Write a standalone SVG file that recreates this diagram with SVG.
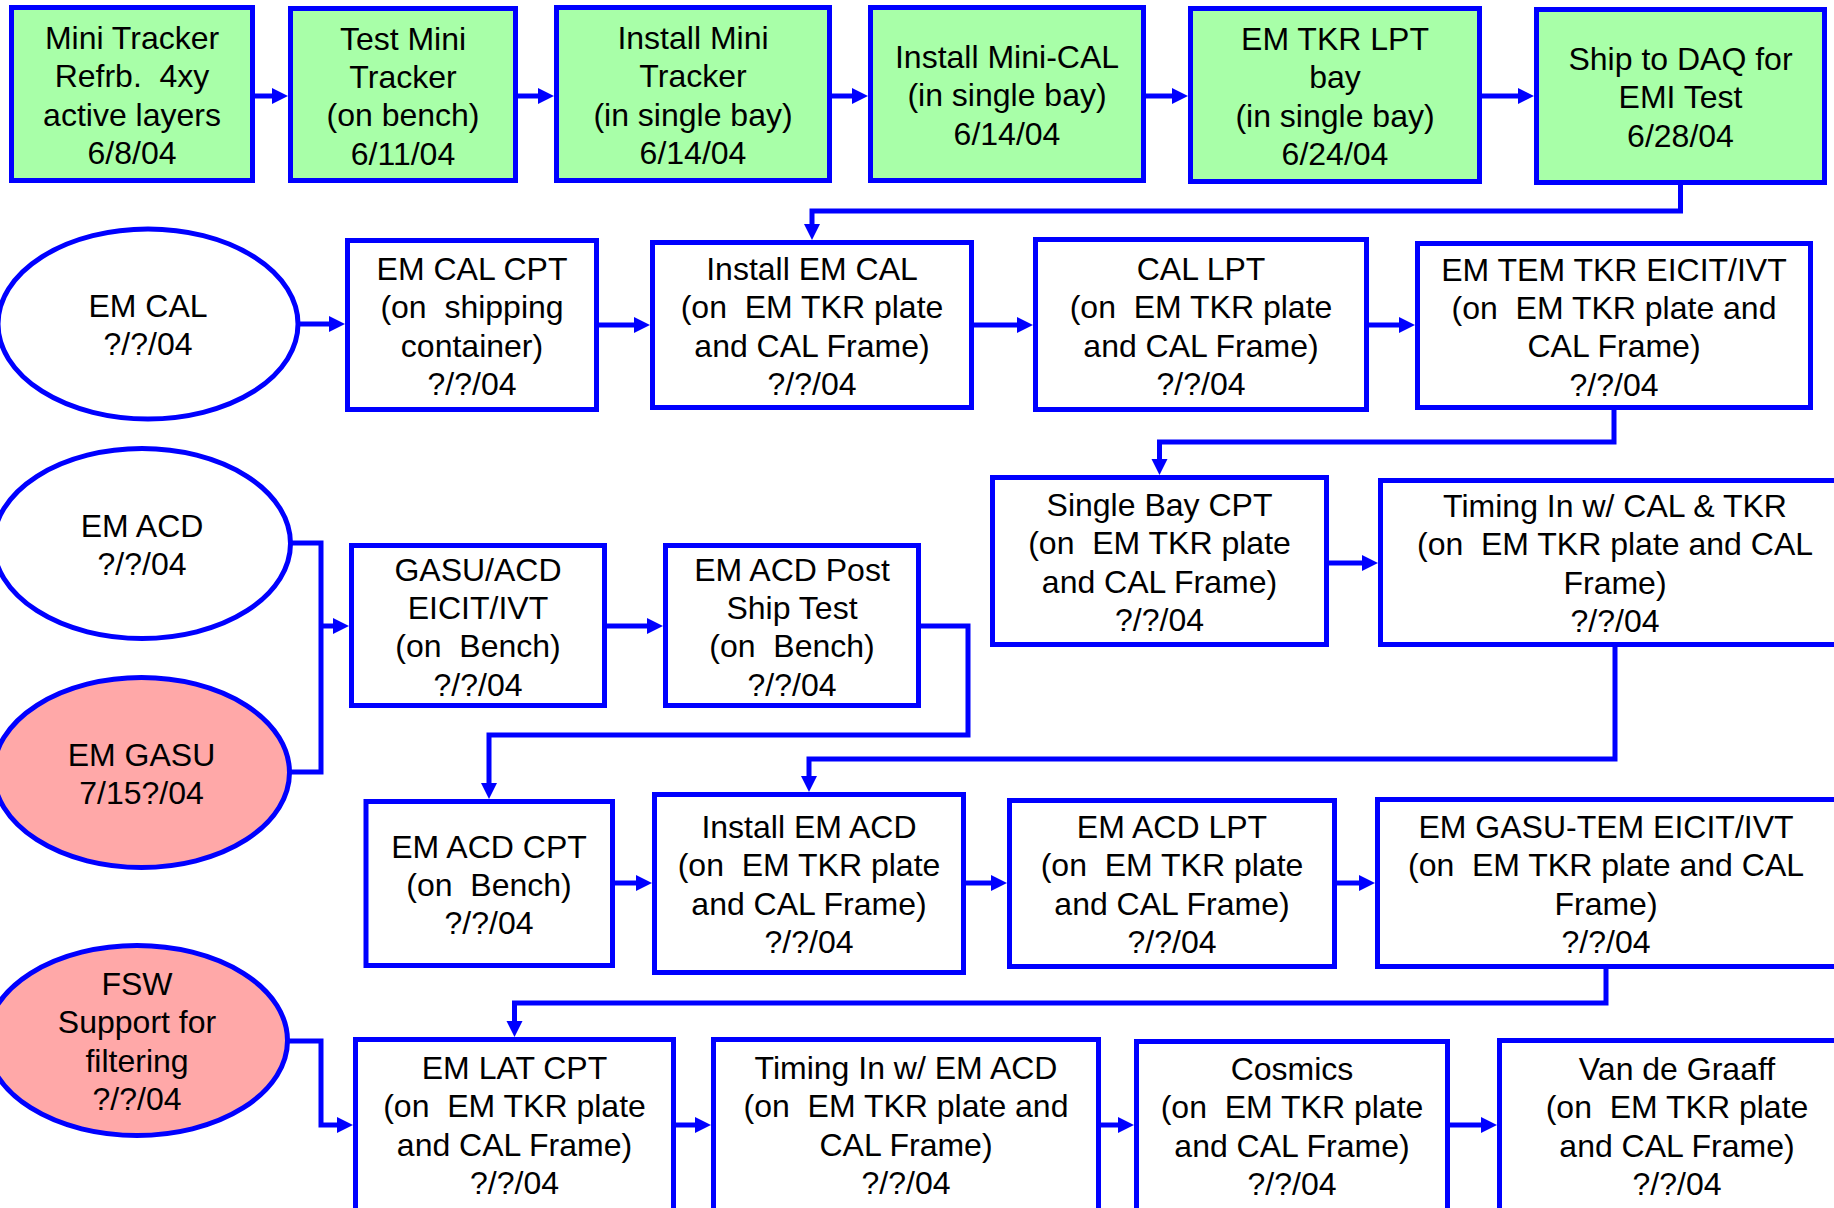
<svg xmlns="http://www.w3.org/2000/svg" width="1834" height="1208" viewBox="0 0 1834 1208">
<style>
.box{fill:#ffffff;stroke:#0000ff;stroke-width:5}
.green{fill:#a8ffa8}
.pink{fill:#ffa8a8}
text{font-family:"Liberation Sans",Arial,sans-serif;font-size:32px;text-anchor:middle;fill:#000000}
.c{fill:none;stroke:#0000ff;stroke-width:5;stroke-linejoin:miter}
</style>
<defs>
<marker id="ah" markerUnits="userSpaceOnUse" markerWidth="16" markerHeight="16" refX="4" refY="8" orient="auto" overflow="visible">
<path d="M0,0 L16,8 L0,16 Z" fill="#0000ff"/>
</marker>
</defs>
<rect width="1834" height="1208" fill="#ffffff"/>

<g id="n_minitracker">
<rect class="box green" x="11.5" y="7.5" width="241" height="173"/>
<text x="132" y="49">Mini Tracker</text>
<text x="132" y="87.4" xml:space="preserve">Refrb.  4xy</text>
<text x="132" y="125.8">active layers</text>
<text x="132" y="164.2">6/8/04</text>
</g>
<g id="n_testmini">
<rect class="box green" x="290.5" y="8.5" width="225" height="172"/>
<text x="403" y="49.5">Test Mini</text>
<text x="403" y="87.9">Tracker</text>
<text x="403" y="126.3">(on bench)</text>
<text x="403" y="164.7">6/11/04</text>
</g>
<g id="n_installmini">
<rect class="box green" x="556.5" y="7.5" width="273" height="173"/>
<text x="693" y="49">Install Mini</text>
<text x="693" y="87.4">Tracker</text>
<text x="693" y="125.8">(in single bay)</text>
<text x="693" y="164.2">6/14/04</text>
</g>
<g id="n_minical">
<rect class="box green" x="870.5" y="7.5" width="273" height="173"/>
<text x="1007" y="68">Install Mini-CAL</text>
<text x="1007" y="106.4">(in single bay)</text>
<text x="1007" y="144.8">6/14/04</text>
</g>
<g id="n_tkrlpt">
<rect class="box green" x="1190.5" y="8.5" width="289" height="173"/>
<text x="1335" y="50">EM TKR LPT</text>
<text x="1335" y="88.4">bay</text>
<text x="1335" y="126.8">(in single bay)</text>
<text x="1335" y="165.2">6/24/04</text>
</g>
<g id="n_ship">
<rect class="box green" x="1536.5" y="9.5" width="288" height="173"/>
<text x="1680.5" y="70">Ship to DAQ for</text>
<text x="1680.5" y="108.4">EMI Test</text>
<text x="1680.5" y="146.8">6/28/04</text>
</g>

<g id="n_emcal">
<ellipse class="box" cx="148" cy="324" rx="150" ry="95"/>
<text x="148" y="317">EM CAL</text>
<text x="148" y="355.4">?/?/04</text>
</g>
<g id="n_calcpt">
<rect class="box" x="347.5" y="240.5" width="249" height="169"/>
<text x="472" y="280" xml:space="preserve">EM CAL CPT</text>
<text x="472" y="318.4" xml:space="preserve">(on  shipping</text>
<text x="472" y="356.8">container)</text>
<text x="472" y="395.2">?/?/04</text>
</g>
<g id="n_installcal">
<rect class="box" x="652.5" y="242.5" width="319" height="165"/>
<text x="812" y="280">Install EM CAL</text>
<text x="812" y="318.4" xml:space="preserve">(on  EM TKR plate</text>
<text x="812" y="356.8">and CAL Frame)</text>
<text x="812" y="395.2">?/?/04</text>
</g>
<g id="n_callpt">
<rect class="box" x="1035.5" y="239.5" width="331" height="170"/>
<text x="1201" y="280">CAL LPT</text>
<text x="1201" y="318.4" xml:space="preserve">(on  EM TKR plate</text>
<text x="1201" y="356.8">and CAL Frame)</text>
<text x="1201" y="395.2">?/?/04</text>
</g>
<g id="n_temtkr">
<rect class="box" x="1417.5" y="243.5" width="393" height="164"/>
<text x="1614" y="280.5">EM TEM TKR EICIT/IVT</text>
<text x="1614" y="318.9" xml:space="preserve">(on  EM TKR plate and</text>
<text x="1614" y="357.3">CAL Frame)</text>
<text x="1614" y="395.7">?/?/04</text>
</g>

<g id="n_singlebay">
<rect class="box" x="992.5" y="477.5" width="334" height="167"/>
<text x="1159.5" y="516">Single Bay CPT</text>
<text x="1159.5" y="554.4" xml:space="preserve">(on  EM TKR plate</text>
<text x="1159.5" y="592.8">and CAL Frame)</text>
<text x="1159.5" y="631.2">?/?/04</text>
</g>
<g id="n_timingcal">
<rect class="box" x="1380.5" y="480.5" width="469" height="164"/>
<text x="1615" y="517">Timing In w/ CAL &amp; TKR</text>
<text x="1615" y="555.4" xml:space="preserve">(on  EM TKR plate and CAL</text>
<text x="1615" y="593.8">Frame)</text>
<text x="1615" y="632.2">?/?/04</text>
</g>

<g id="n_emacd">
<ellipse class="box" cx="142" cy="543.5" rx="148.5" ry="95"/>
<text x="142" y="536.5">EM ACD</text>
<text x="142" y="574.9">?/?/04</text>
</g>
<g id="n_emgasu">
<ellipse class="box pink" cx="141.5" cy="772.5" rx="148" ry="95"/>
<text x="141.5" y="765.5">EM GASU</text>
<text x="141.5" y="803.9">7/15?/04</text>
</g>
<g id="n_gasuacd">
<rect class="box" x="351.5" y="545.5" width="253" height="160"/>
<text x="478" y="580.5">GASU/ACD</text>
<text x="478" y="618.9">EICIT/IVT</text>
<text x="478" y="657.3" xml:space="preserve">(on  Bench)</text>
<text x="478" y="695.7">?/?/04</text>
</g>
<g id="n_acdpost">
<rect class="box" x="665.5" y="545.5" width="253" height="160"/>
<text x="792" y="580.5">EM ACD Post</text>
<text x="792" y="618.9">Ship Test</text>
<text x="792" y="657.3" xml:space="preserve">(on  Bench)</text>
<text x="792" y="695.7">?/?/04</text>
</g>

<g id="n_acdcpt">
<rect class="box" x="366" y="801.5" width="246.5" height="164"/>
<text x="489" y="857.5">EM ACD CPT</text>
<text x="489" y="895.9" xml:space="preserve">(on  Bench)</text>
<text x="489" y="934.3">?/?/04</text>
</g>
<g id="n_installacd">
<rect class="box" x="654.5" y="794.5" width="309" height="178"/>
<text x="809" y="838">Install EM ACD</text>
<text x="809" y="876.4" xml:space="preserve">(on  EM TKR plate</text>
<text x="809" y="914.8">and CAL Frame)</text>
<text x="809" y="953.2">?/?/04</text>
</g>
<g id="n_acdlpt">
<rect class="box" x="1009.5" y="800.5" width="325" height="166"/>
<text x="1172" y="838">EM ACD LPT</text>
<text x="1172" y="876.4" xml:space="preserve">(on  EM TKR plate</text>
<text x="1172" y="914.8">and CAL Frame)</text>
<text x="1172" y="953.2">?/?/04</text>
</g>
<g id="n_gasutem">
<rect class="box" x="1377.5" y="799.5" width="460" height="167"/>
<text x="1606" y="838">EM GASU-TEM EICIT/IVT</text>
<text x="1606" y="876.4" xml:space="preserve">(on  EM TKR plate and CAL</text>
<text x="1606" y="914.8">Frame)</text>
<text x="1606" y="953.2">?/?/04</text>
</g>

<g id="n_fsw">
<ellipse class="box pink" cx="137" cy="1040.5" rx="150.5" ry="95"/>
<text x="137" y="995">FSW</text>
<text x="137" y="1033.4">Support for</text>
<text x="137" y="1071.8">filtering</text>
<text x="137" y="1110.2">?/?/04</text>
</g>
<g id="n_latcpt">
<rect class="box" x="355.5" y="1039.5" width="318" height="200"/>
<text x="514.5" y="1079">EM LAT CPT</text>
<text x="514.5" y="1117.4" xml:space="preserve">(on  EM TKR plate</text>
<text x="514.5" y="1155.8">and CAL Frame)</text>
<text x="514.5" y="1194.2">?/?/04</text>
</g>
<g id="n_timingacd">
<rect class="box" x="713.5" y="1039.5" width="385" height="200"/>
<text x="906" y="1079">Timing In w/ EM ACD</text>
<text x="906" y="1117.4" xml:space="preserve">(on  EM TKR plate and</text>
<text x="906" y="1155.8">CAL Frame)</text>
<text x="906" y="1194.2">?/?/04</text>
</g>
<g id="n_cosmics">
<rect class="box" x="1136.5" y="1041.5" width="311" height="200"/>
<text x="1292" y="1080">Cosmics</text>
<text x="1292" y="1118.4" xml:space="preserve">(on  EM TKR plate</text>
<text x="1292" y="1156.8">and CAL Frame)</text>
<text x="1292" y="1195.2">?/?/04</text>
</g>
<g id="n_vdg">
<rect class="box" x="1499.5" y="1040.5" width="355" height="200"/>
<text x="1677" y="1080">Van de Graaff</text>
<text x="1677" y="1118.4" xml:space="preserve">(on  EM TKR plate</text>
<text x="1677" y="1156.8">and CAL Frame)</text>
<text x="1677" y="1195.2">?/?/04</text>
</g>

<g id="connectors">
<path class="c" marker-end="url(#ah)" d="M255,96 H276"/>
<path class="c" marker-end="url(#ah)" d="M518,96 H542"/>
<path class="c" marker-end="url(#ah)" d="M832,96 H856"/>
<path class="c" marker-end="url(#ah)" d="M1146,96 H1176"/>
<path class="c" marker-end="url(#ah)" d="M1482,96 H1522"/>
<path class="c" marker-end="url(#ah)" d="M1680.5,185 V211 H812 V228"/>
<path class="c" marker-end="url(#ah)" d="M299,324 H333"/>
<path class="c" marker-end="url(#ah)" d="M599,325 H638"/>
<path class="c" marker-end="url(#ah)" d="M974,325 H1021"/>
<path class="c" marker-end="url(#ah)" d="M1369,325 H1403"/>
<path class="c" marker-end="url(#ah)" d="M1614,410 V442 H1159.5 V463"/>
<path class="c" marker-end="url(#ah)" d="M1329,563 H1366"/>
<path class="c" marker-end="url(#ah)" d="M1615,647 V759 H809 V780"/>
<path class="c" d="M291,543 H321 V772 H290"/>
<path class="c" marker-end="url(#ah)" d="M321,626 H337"/>
<path class="c" marker-end="url(#ah)" d="M607,626 H651"/>
<path class="c" marker-end="url(#ah)" d="M921,626 H968 V735 H489 V787"/>
<path class="c" marker-end="url(#ah)" d="M615,883 H640"/>
<path class="c" marker-end="url(#ah)" d="M966,883 H995"/>
<path class="c" marker-end="url(#ah)" d="M1337,883 H1363"/>
<path class="c" marker-end="url(#ah)" d="M1606,969 V1003 H514.5 V1025"/>
<path class="c" marker-end="url(#ah)" d="M288,1041 H321 V1125 H341"/>
<path class="c" marker-end="url(#ah)" d="M676,1125 H699"/>
<path class="c" marker-end="url(#ah)" d="M1101,1125 H1122"/>
<path class="c" marker-end="url(#ah)" d="M1450,1125 H1485"/>
</g>
</svg>
